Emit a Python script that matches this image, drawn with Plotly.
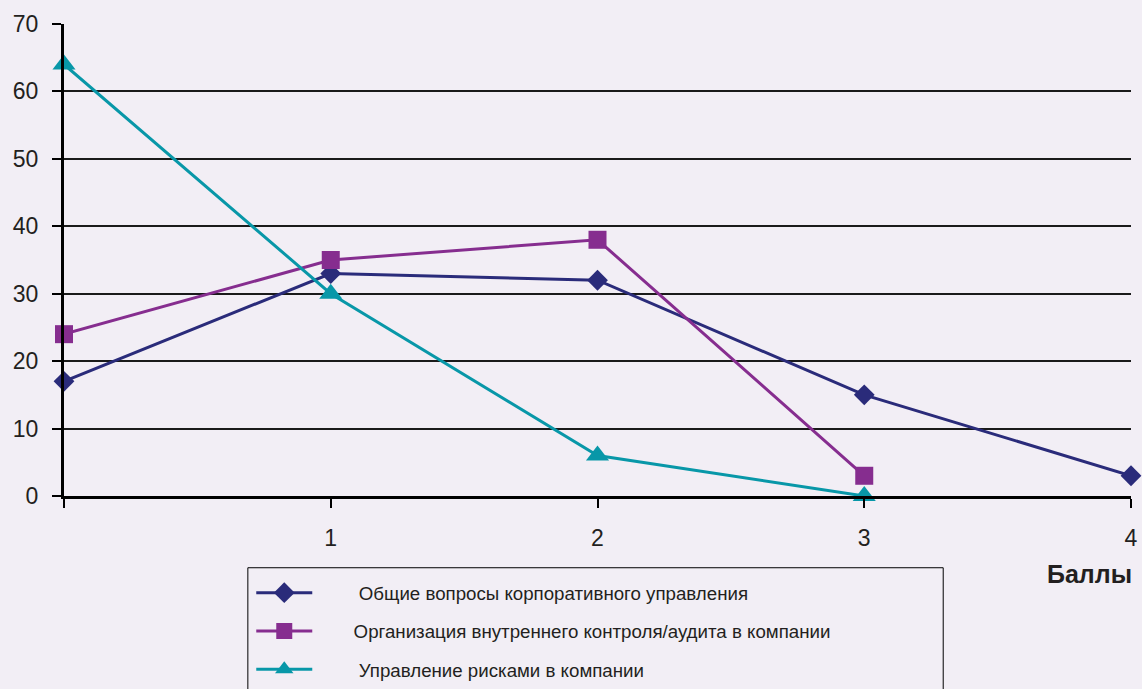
import plotly.graph_objects as go

x_vals = [0, 1, 2, 3, 4]
general = [17, 33, 32, 15, 3]
internal = [24, 35, 38, 3]
risks = [64, 30, 6, 0]
names = [
    "Общие вопросы корпоративного управления",
    "Организация внутреннего контроля/аудита в компании",
    "Управление рисками в компании",
]
pads = [8, 7, 8]
y_ticks = [0, 10, 20, 30, 40, 50, 60, 70]
x_ticktext = ["", "1", "2", "3", "4"]

BG = "#F2EEF5"
TXT = "#231F20"
NB = "\u00a0"

fig = go.Figure()
fig.add_trace(go.Scatter(x=x_vals[:len(general)], y=general, name=NB * pads[0] + names[0], mode="lines+markers",
                         line=dict(color="#2A2B7A", width=3), legendgroup="a",
                         marker=dict(symbol="diamond", size=16, color="#2A2B7A"), cliponaxis=False))
fig.add_trace(go.Scatter(x=x_vals[:len(internal)], y=internal, name=NB * pads[1] + names[1], mode="lines+markers",
                         line=dict(color="#862D8F", width=3), legendgroup="b",
                         marker=dict(symbol="square", size=18, color="#862D8F"), cliponaxis=False))
fig.add_trace(go.Scatter(x=x_vals[:len(risks)], y=risks, name=NB * pads[2] + names[2], mode="lines+markers",
                         line=dict(color="#0897A8", width=3), legendgroup="c",
                         marker=dict(symbol="triangle-up", size=20, color="#0897A8"), cliponaxis=False))

fig.update_layout(
    width=1142, height=689,
    margin=dict(l=64, r=4, t=24, b=193),
    paper_bgcolor=BG, plot_bgcolor=BG,
    font=dict(family="Liberation Sans, Arial, sans-serif", color=TXT),
    showlegend=True,
    legend=dict(x=0.1755, y=0.1669, xanchor="left", yanchor="top", yref="container",
                bgcolor="rgba(0,0,0,0)", borderwidth=0,
                font=dict(size=18.7, color=TXT), itemwidth=56,
                traceorder="grouped", tracegroupgap=11),
    xaxis=dict(range=[0, 4], tickvals=x_vals, ticktext=x_ticktext,
               showgrid=False, zeroline=False, showline=True, linecolor="#000000", linewidth=3,
               ticks="outside", ticklen=9, tickwidth=2, tickcolor="#000000",
               tickfont=dict(size=23, color=TXT), ticklabelstandoff=10,
               ticklabeloverflow="allow"),
    yaxis=dict(range=[0, 70], tickvals=y_ticks,
               showgrid=True, gridcolor="#1A1A1A", gridwidth=2, zeroline=False,
               showline=True, linecolor="#000000", linewidth=3,
               ticks="outside", ticklen=9, tickwidth=2, tickcolor="#000000",
               tickfont=dict(size=23, color=TXT), ticklabelstandoff=9),
    shapes=[dict(type="rect", xref="paper", yref="paper",
                 x0=0.1723, x1=0.824, y0=-0.152, y1=-0.45,
                 line=dict(color="#000000", width=1), fillcolor="rgba(0,0,0,0)")],
    annotations=[dict(text="<b>Баллы</b>", xref="paper", yref="paper",
                      x=1.0025, y=-0.165, xanchor="right", yanchor="middle",
                      showarrow=False, font=dict(size=25, color=TXT))],
)

fig.write_html("out.html")
